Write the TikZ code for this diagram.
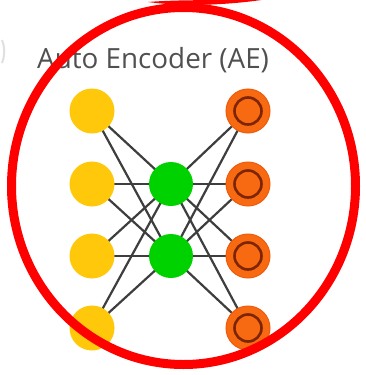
\documentclass[tikz,border=0pt]{standalone}
\usepackage{fontspec}
\setmainfont{Open Sans}
\pgfdeclarelayer{paper}
\pgfdeclarelayer{wires}
\pgfsetlayers{paper,wires,main}
\begin{document}
\begin{tikzpicture}[x=1pt,y=-1pt,
  inunit/.style={circle,fill=unitYellow,minimum size=45pt,inner sep=0pt},
  codeunit/.style={circle,fill=unitGreen,minimum size=44pt,inner sep=0pt},
  outunit/.style={circle,fill=unitOrange,draw=unitOrangeEdge,line width=1pt,minimum size=44pt,inner sep=0pt,
    path picture={\draw[unitRing,line width=2.6pt] (path picture bounding box.center) circle (13.5pt);}},
  link/.style={draw=linkGray,line width=2.2pt},
  mark ring/.style={draw=markRed,line width=9pt}
]
\definecolor{unitYellow}{RGB}{255,200,10}
\definecolor{unitGreen}{RGB}{0,210,0}
\definecolor{unitOrange}{RGB}{248,106,18}
\definecolor{unitOrangeEdge}{RGB}{236,92,12}
\definecolor{unitRing}{RGB}{125,36,0}
\definecolor{linkGray}{RGB}{62,62,62}
\definecolor{markRed}{RGB}{255,0,0}
\definecolor{titleGray}{RGB}{80,80,80}

\begin{pgfonlayer}{paper}
  \fill[white] (0,0) rectangle (366,375);
\end{pgfonlayer}
\useasboundingbox (0,0) rectangle (366,375);

% title
\node[anchor=base west,inner sep=0pt,text=titleGray,font=\fontsize{27.8}{32}\selectfont] (title) at (37,68) {Auto Encoder (AE)};

% units
\foreach \i/\y in {1/111,2/184,3/256,4/328} {
  \node[inunit] (in\i) at (92,\y) {};
  \node[outunit] (out\i) at (248,\y) {};
}
\node[codeunit] (code1) at (171,184) {};
\node[codeunit] (code2) at (171,256) {};

% every input and output unit is wired to both code units
\begin{pgfonlayer}{wires}
\foreach \i in {1,2,3,4} {
  \foreach \j in {1,2} {
    \path[link] (in\i.center) -- (code\j.center);
    \path[link] (code\j.center) -- (out\i.center);
  }
}
\end{pgfonlayer}

% faint mark at the left edge
\draw[black!12,line width=2pt] (2,40) .. controls (5,48) and (5,55) .. (2,63);

% red highlight ring with its overshooting tail
\draw[mark ring] (183.5,186) ellipse [x radius=172, y radius=178.5];
\fill[markRed] (148,2) .. controls (185,7) and (230,5) .. (268,-1) .. controls (230,1) and (185,-1) .. (148,2) -- cycle;
\end{tikzpicture}
\end{document}
